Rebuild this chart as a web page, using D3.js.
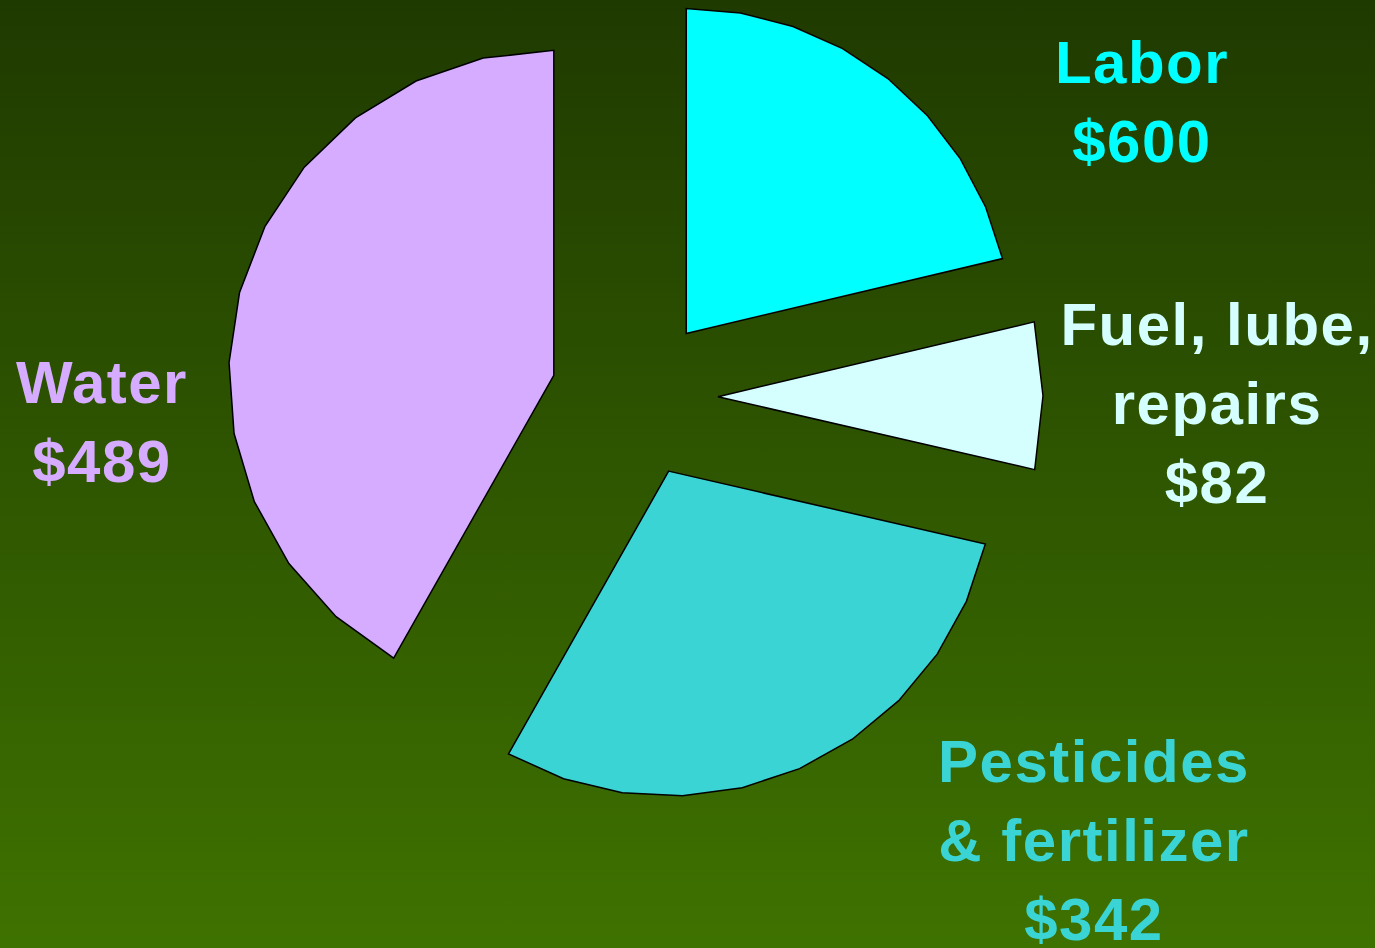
<!DOCTYPE html>
<html>
<head>
<meta charset="utf-8">
<script src="https://cdn.jsdelivr.net/npm/d3@7"></script>
<style>
  html, body { margin: 0; padding: 0; background: #2c5200; }
  svg { display: block; }
</style>
</head>
<body>
<svg id="chart" width="1375" height="948"></svg>
<script>
// ---- data ----
const categories = ["Labor", "Fuel, lube, repairs", "Pesticides & fertilizer", "Water"];
const amounts = [600, 82, 342, 489];                 // dollar labels
const sliceShare = [21.3, 7.3, 29.6, 41.8];          // slice size as drawn (% of pie)
const labelLines = [
  ["Labor", "$600"],
  ["Fuel, lube,", "repairs", "$82"],
  ["Pesticides", "& fertilizer", "$342"],
  ["Water", "$489"]
];

// ---- layout / style ----
const W = 1375, H = 948;
const cx = 636, cy = 397, R = 325;
const explode = [81, 82, 81, 85];
const colors = ["#00ffff", "#d5ffff", "#3bd4d4", "#d5acff"];
const segments = [8, 2, 10, 12];
const labelAnchor = [[1142, 83], [1217, 345], [1094, 782], [102, 403]];
const lineGap = 79;

const svg = d3.select("#chart");
const defs = svg.append("defs");
const grad = defs.append("linearGradient").attr("id", "bg")
  .attr("x1", 0).attr("y1", 0).attr("x2", 0).attr("y2", 1);
grad.append("stop").attr("offset", "0%").attr("stop-color", "#1f3a00");
grad.append("stop").attr("offset", "100%").attr("stop-color", "#3e7200");
svg.append("rect").attr("width", W).attr("height", H).attr("fill", "url(#bg)");

const pie = d3.pie().sort(null).value(d => d)(sliceShare);
const line = d3.line();

const g = svg.append("g").attr("transform", `translate(${cx},${cy})`);
pie.forEach((p, i) => {
  const mid = (p.startAngle + p.endAngle) / 2;
  const ox = explode[i] * Math.sin(mid), oy = -explode[i] * Math.cos(mid);
  const n = segments[i];
  const angs = d3.range(n + 1).map(k => p.startAngle + (p.endAngle - p.startAngle) * k / n);
  const pts = [[0, 0]].concat(angs.map(a => [R * Math.sin(a), -R * Math.cos(a)]));
  g.append("path")
    .attr("transform", `translate(${ox},${oy})`)
    .attr("d", line(pts) + "Z")
    .attr("fill", colors[i])
    .attr("stroke", "#000")
    .attr("stroke-width", 1.5)
    .attr("stroke-linejoin", "miter");
});

labelLines.forEach((lines, i) => {
  const t = svg.append("text")
    .attr("x", labelAnchor[i][0])
    .attr("y", labelAnchor[i][1])
    .attr("text-anchor", "middle")
    .attr("fill", colors[i])
    .attr("font-family", "'Liberation Sans', Arial, sans-serif")
    .attr("font-weight", "bold")
    .attr("font-size", 60)
    .attr("letter-spacing", 1.5);
  lines.forEach((s, k) => {
    t.append("tspan").attr("x", labelAnchor[i][0]).attr("y", labelAnchor[i][1] + k * lineGap).text(s);
  });
});
</script>
</body>
</html>
